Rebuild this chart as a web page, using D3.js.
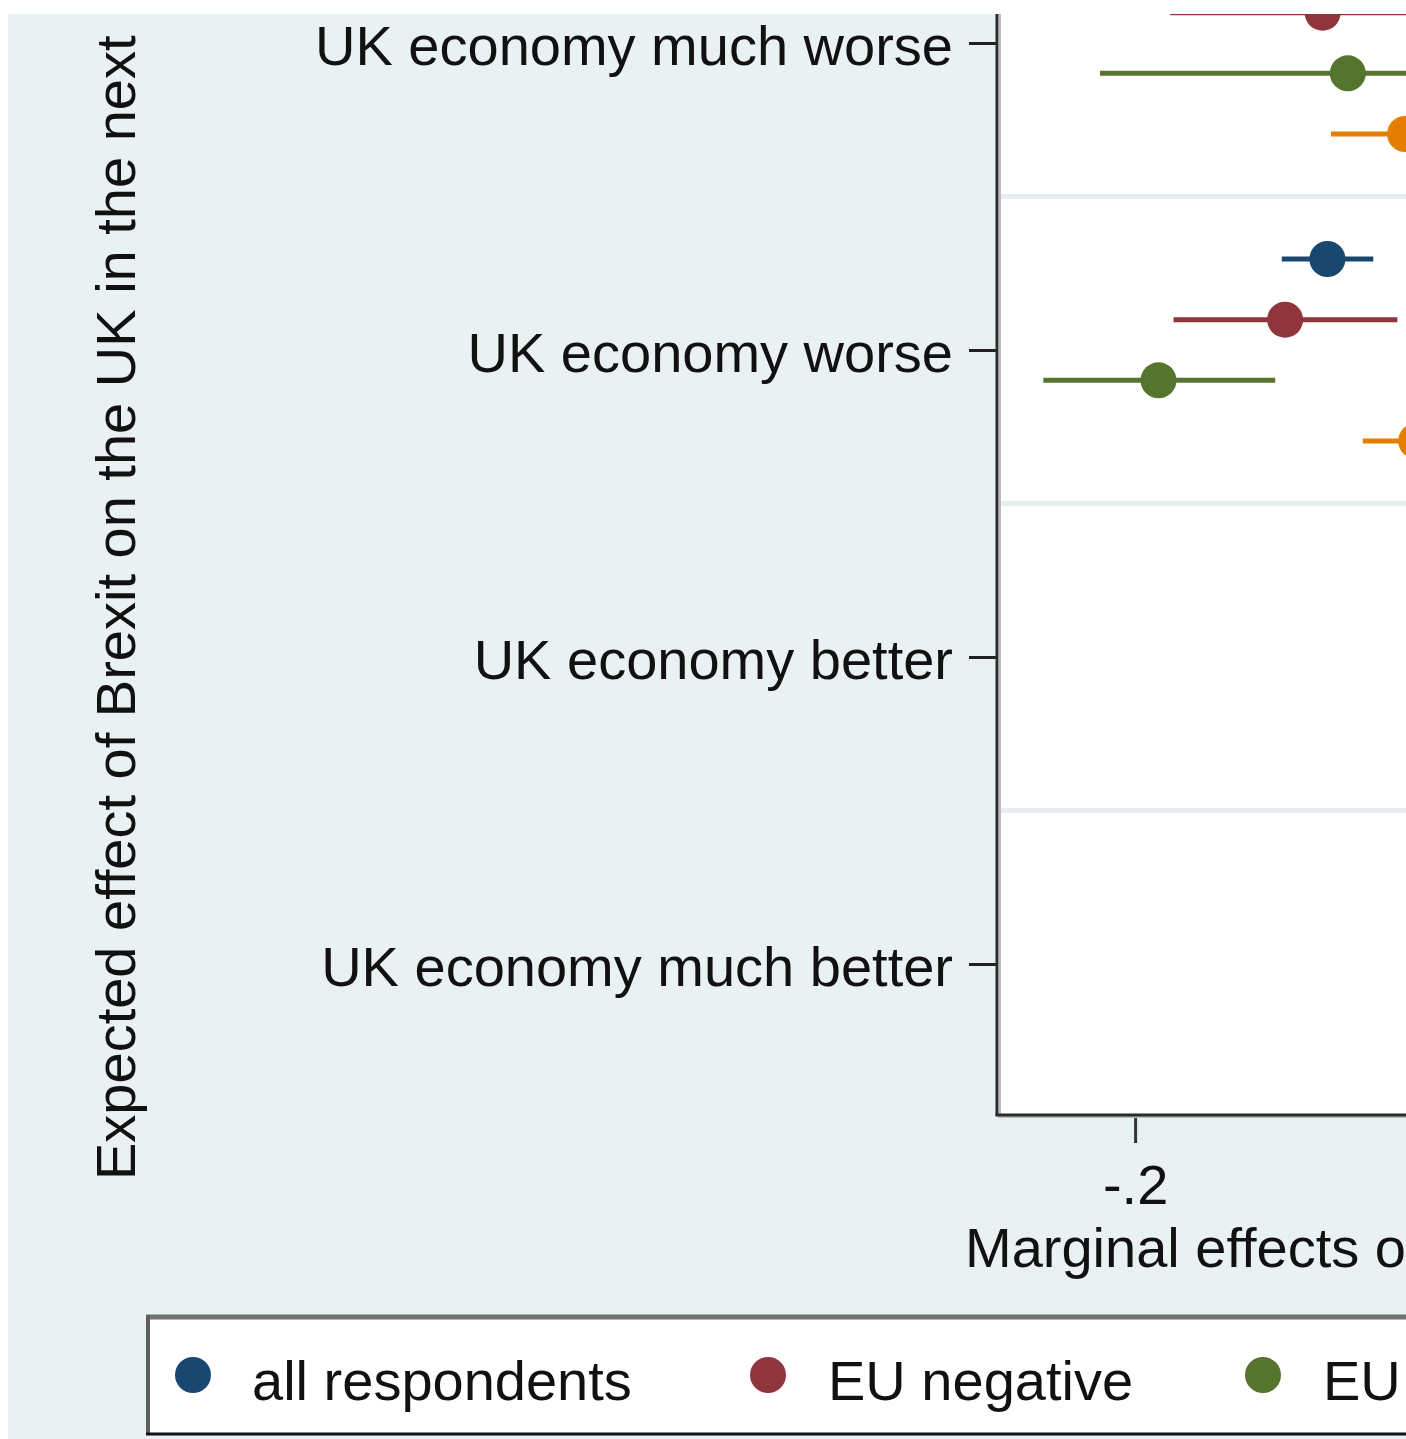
<!DOCTYPE html>
<html>
<head>
<meta charset="utf-8">
<script src="https://cdn.jsdelivr.net/npm/d3@7"></script>
<style>
  html, body { margin: 0; padding: 0; background: #ffffff; overflow: hidden; }
  svg { display: block; }
  text { font-family: "Liberation Sans", Arial, Helvetica, sans-serif; fill: #111; }
</style>
</head>
<body>
<svg id="chart" width="1406" height="1439"></svg>
<script>
// ---------------- data ----------------
const categories = [
  "UK economy much worse",
  "UK economy worse",
  "UK economy better",
  "UK economy much better"
];
const seriesNames = ["all respondents", "EU negative", "EU positive", "EU neutral"];
const seriesColors = ["#1a476f", "#90353b", "#55752f", "#e37e00"];

// point estimates and confidence bounds per category (null = not visible in the picture)
const allEst  = [null, -0.1359, null, null];
const allLo   = [null, -0.1511, null, null];
const allHi   = [null, -0.1206, null, null];

const negEst  = [-0.1375, -0.1500, null, null];
const negLo   = [-0.1883, -0.1872, null, null];
const negHi   = [-0.0877, -0.1126, null, null];

const posEst  = [-0.1291, -0.1922, null, null];
const posLo   = [-0.2117, -0.2306, null, null];
const posHi   = [-0.0465, -0.1533, null, null];

const neuEst  = [-0.1100, -0.1063, null, null];
const neuLo   = [-0.1347, -0.1241, null, null];
const neuHi   = [-0.0853, -0.0885, null, null];

// only the -.2 tick lies inside the visible crop
const xTickValues = [-0.2];
const xTickLabels = ["-.2"];
const xTitle = "Marginal effects o";
const yTitle = "Expected effect of Brexit on the UK in the next";
// legend entries visible in the crop
const legendLabels = ["all respondents", "EU negative", "EU"];

const seriesData = [
  { est: allEst, lo: allLo, hi: allHi },
  { est: negEst, lo: negLo, hi: negHi },
  { est: posEst, lo: posLo, hi: posHi },
  { est: neuEst, lo: neuLo, hi: neuHi }
];

// ---------------- layout ----------------
const W = 1406, H = 1439;
const bgColor = "#eaf1f3";
const plotLeft = 998, plotBottom = 1115;
const FS = 56;

const svg = d3.select("#chart");

// graph region background
svg.append("rect").attr("x", 0).attr("y", 0).attr("width", W).attr("height", H).attr("fill", bgColor);
// plot region
svg.append("rect").attr("x", plotLeft).attr("y", -100).attr("width", 3000).attr("height", plotBottom + 100).attr("fill", "#ffffff");

// scales
const x = d3.scaleLinear().domain([-0.2457, 0.3]).range([plotLeft, plotLeft + 0.5457 * 3000]);
const y = d3.scalePoint().domain(categories).range([43, 43 + 307 * 3]);
const yOff = d3.scalePoint().domain(seriesNames).range([-91, 91]);

// gridlines between categories
const step = y.step();
svg.append("g").selectAll("line")
  .data(categories.slice(0, -1))
  .join("line")
  .attr("x1", plotLeft + 2).attr("x2", W)
  .attr("y1", d => y(d) + step / 2).attr("y2", d => y(d) + step / 2)
  .attr("stroke", "#e6eef0").attr("stroke-width", 5);

// CI lines and markers
const marks = svg.append("g");
seriesData.forEach((s, si) => {
  const name = seriesNames[si];
  categories.forEach((c, ci) => {
    if (s.est[ci] == null) return;
    const yy = y(c) + yOff(name);
    marks.append("line")
      .attr("x1", x(s.lo[ci])).attr("x2", x(s.hi[ci]))
      .attr("y1", yy).attr("y2", yy)
      .attr("stroke", seriesColors[si]).attr("stroke-width", 5);
    marks.append("circle")
      .attr("cx", x(s.est[ci])).attr("cy", yy).attr("r", 18)
      .attr("fill", seriesColors[si]);
  });
});

// y axis
const yAxis = d3.axisLeft(y).tickSize(28).tickPadding(16).tickSizeOuter(0);
const gy = svg.append("g").attr("transform", `translate(${plotLeft - 1},0)`).call(yAxis);
gy.select(".domain").remove();
gy.selectAll(".tick line").attr("stroke", "#222").attr("stroke-width", 3);
gy.selectAll(".tick text")
  .attr("font-size", FS).attr("fill", "#111")
  .attr("font-family", "'Liberation Sans', Arial, sans-serif")
  .attr("dy", null).attr("y", 21);

// x axis
const xAxis = d3.axisBottom(x).tickValues(xTickValues)
  .tickFormat((d, i) => xTickLabels[i]).tickSize(28).tickPadding(14).tickSizeOuter(0);
const gx = svg.append("g").attr("transform", `translate(0,${plotBottom})`).call(xAxis);
gx.select(".domain").remove();
gx.selectAll(".tick line").attr("stroke", "#333").attr("stroke-width", 3);
gx.selectAll(".tick text")
  .attr("font-size", FS).attr("fill", "#111")
  .attr("font-family", "'Liberation Sans', Arial, sans-serif")
  .attr("dy", null).attr("y", 89);

// axis lines (with light shadow)
svg.append("line").attr("x1", plotLeft + 2).attr("x2", plotLeft + 2).attr("y1", 0).attr("y2", plotBottom + 2)
  .attr("stroke", "#b8bcbe").attr("stroke-width", 2);
svg.append("line").attr("x1", plotLeft).attr("x2", W).attr("y1", plotBottom + 2).attr("y2", plotBottom + 2)
  .attr("stroke", "#b8bcbe").attr("stroke-width", 2);
svg.append("line").attr("x1", plotLeft - 1).attr("x2", plotLeft - 1).attr("y1", 0).attr("y2", plotBottom + 1)
  .attr("stroke", "#2a2a2a").attr("stroke-width", 3);
svg.append("line").attr("x1", plotLeft - 2.5).attr("x2", W).attr("y1", plotBottom).attr("y2", plotBottom)
  .attr("stroke", "#2a2a2a").attr("stroke-width", 3);

// axis titles
svg.append("text")
  .attr("transform", "translate(135,1180) rotate(-90)")
  .attr("text-anchor", "start").attr("font-size", FS)
  .text(yTitle);
svg.append("text")
  .attr("x", 965).attr("y", 1267)
  .attr("text-anchor", "start").attr("font-size", FS)
  .text(xTitle);

// legend
const lg = svg.append("g");
lg.append("rect").attr("x", 148).attr("y", 1317).attr("width", 2000).attr("height", 116).attr("fill", "#ffffff");
lg.append("line").attr("x1", 146).attr("x2", W).attr("y1", 1317).attr("y2", 1317).attr("stroke", "#737373").attr("stroke-width", 5);
lg.append("line").attr("x1", 148).attr("x2", 148).attr("y1", 1315).attr("y2", 1435).attr("stroke", "#5e5e5e").attr("stroke-width", 4);
lg.append("line").attr("x1", 146).attr("x2", W).attr("y1", 1434).attr("y2", 1434).attr("stroke", "#111").attr("stroke-width", 3);

const legendDotX = [193, 768, 1263];
const legendTextX = [252, 828, 1323];
legendLabels.forEach((n, i) => {
  lg.append("circle").attr("cx", legendDotX[i]).attr("cy", 1375).attr("r", 18).attr("fill", seriesColors[i]);
  lg.append("text").attr("x", legendTextX[i]).attr("y", 1400).attr("font-size", FS).text(n);
});

// crop margins (white strips of the original picture)
svg.append("rect").attr("x", 0).attr("y", 0).attr("width", W).attr("height", 14).attr("fill", "#ffffff");
svg.append("rect").attr("x", 0).attr("y", 0).attr("width", 8).attr("height", H).attr("fill", "#ffffff");
</script>
</body>
</html>
